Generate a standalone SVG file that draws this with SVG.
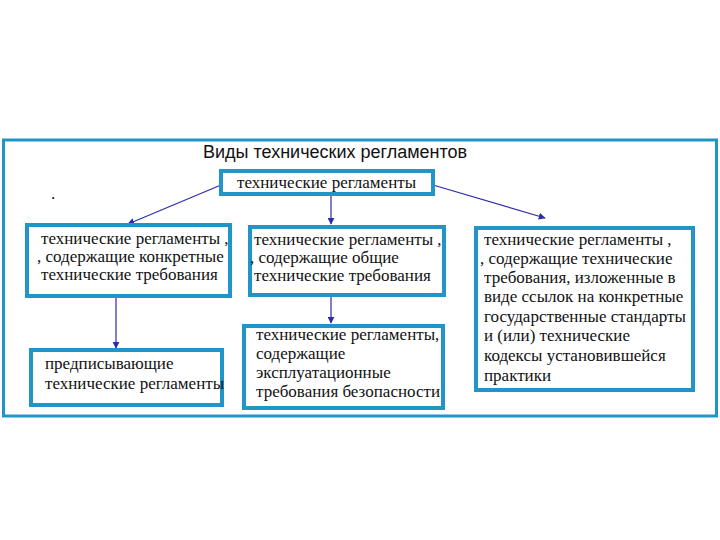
<svg xmlns="http://www.w3.org/2000/svg" width="720" height="540" viewBox="0 0 720 540">
<defs>
<style>
.frame{fill:#fff;stroke:#2194c8;stroke-width:3}
.box{fill:#fff;stroke:#2194c8;stroke-width:4}
.serif{font-family:"Liberation Serif","Times New Roman",serif;font-size:17px;fill:#111}
.title{font-family:"Liberation Sans",Arial,sans-serif;font-size:18px;fill:#111}
.c{stroke:#2b2bb0;stroke-width:1.2;fill:none;marker-end:url(#ah)}
</style>
<marker id="ah" viewBox="0 0 10 10" refX="9" refY="5" markerWidth="7" markerHeight="7" markerUnits="userSpaceOnUse" orient="auto">
<path d="M0,0 L10,5 L0,10 z" fill="#2b2bb0"/>
</marker>
</defs>
<rect width="720" height="540" fill="#fff"/>
<rect class="frame" x="3.5" y="140" width="713" height="276"/>
<text class="title" x="203" y="158">Виды технических регламентов</text>
<text class="serif" x="51" y="199">.</text>
<g id="connectors">
<line class="c" x1="221" y1="185" x2="128" y2="224"/>
<line class="c" x1="331" y1="195" x2="331" y2="224"/>
<line class="c" x1="433" y1="185" x2="545" y2="218"/>
<line class="c" x1="116" y1="297" x2="116" y2="348"/>
<line class="c" x1="331" y1="296" x2="331" y2="323"/>
</g>
<g id="root" class="serif">
<rect class="box" x="221" y="171" width="212" height="23"/>
<text x="237" y="188">технические регламенты</text>
</g>
<g id="concrete" class="serif">
<rect class="box" x="27" y="225" width="203" height="71"/>
<text x="41" y="244">технические регламенты ,</text>
<text x="37" y="262">, содержащие конкретные</text>
<text x="41" y="280">технические требования</text>
</g>
<g id="general" class="serif">
<rect class="box" x="250" y="227" width="194" height="68"/>
<text x="254" y="245">технические регламенты ,</text>
<text x="250" y="263">, содержащие общие</text>
<text x="254" y="281">технические требования</text>
</g>
<g id="reference" class="serif">
<rect class="box" x="476" y="228" width="217" height="162"/>
<text x="484" y="245">технические регламенты ,</text>
<text x="480" y="264">, содержащие технические</text>
<text x="484" y="283">требования, изложенные в</text>
<text x="484" y="302">виде ссылок на конкретные</text>
<text x="484" y="322">государственные стандарты</text>
<text x="484" y="341">и (или) технические</text>
<text x="484" y="361">кодексы установившейся</text>
<text x="484" y="381">практики</text>
</g>
<g id="prescriptive" class="serif">
<rect class="box" x="31" y="350" width="191" height="55"/>
<text x="45" y="369">предписывающие</text>
<text x="45" y="389">технические регламенты</text>
</g>
<g id="safety" class="serif">
<rect class="box" x="244" y="326" width="199" height="82"/>
<text x="256" y="340">технические регламенты,</text>
<text x="256" y="359">содержащие</text>
<text x="256" y="378">эксплуатационные</text>
<text x="256" y="397">требования безопасности</text>
</g>
</svg>
